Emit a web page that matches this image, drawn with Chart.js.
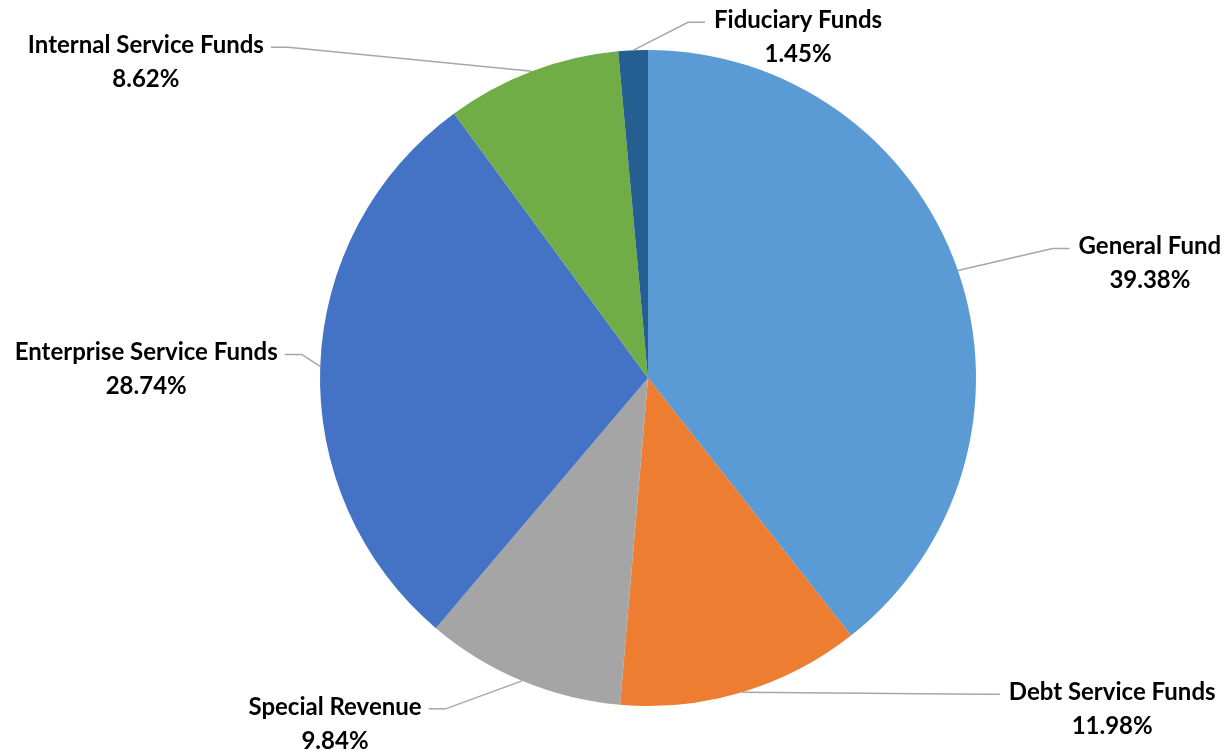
<!DOCTYPE html>
<html>
<head>
<meta charset="utf-8">
<script src="https://cdn.jsdelivr.net/npm/chart.js@4/dist/chart.umd.min.js"></script>
<style>
  html, body { margin: 0; padding: 0; background: #ffffff; }
  #wrap { width: 1229px; height: 752px; position: relative; }
</style>
</head>
<body>
<div id="wrap"><canvas id="c" width="1229" height="752"></canvas></div>
<script>
// ---- data ----
const categories = ["General Fund", "Debt Service Funds", "Special Revenue", "Enterprise Service Funds", "Internal Service Funds", "Fiduciary Funds"];
const percentValues = [39.38, 11.98, 9.84, 28.74, 8.62, 1.45];
const percentLabels = ["39.38%", "11.98%", "9.84%", "28.74%", "8.62%", "1.45%"];

// ---- style / layout ----
const sliceColors = ["#5B9BD5", "#ED7D31", "#A5A5A5", "#4472C4", "#70AD47", "#255E91"];
// label offset (text centre of first line) relative to slice's outer mid point
const labelOffsets = [[192, -24], [370, 0], [-187, 26], [-174, -14], [-386, -26], [165, -30]];
const labelFont = "bold 24px Lato";
const lineGap = 34;

const leaderPlugin = {
  id: 'leaderLabels',
  afterDatasetsDraw(chart) {
    const ctx = chart.ctx;
    const meta = chart.getDatasetMeta(0);
    ctx.save();
    ctx.font = labelFont;
    meta.data.forEach((arc, i) => {
      const p = arc.getProps(['x', 'y', 'startAngle', 'endAngle', 'outerRadius'], true);
      const mid = (p.startAngle + p.endAngle) / 2;
      const ax = p.x + Math.cos(mid) * p.outerRadius;
      const ay = p.y + Math.sin(mid) * p.outerRadius;
      const tx = ax + labelOffsets[i][0];
      const ty = ay + labelOffsets[i][1];
      const w = ctx.measureText(categories[i]).width;
      const right = tx > ax;
      const edge = right ? tx - w / 2 - 9 : tx + w / 2 + 7;
      const elbow = right ? edge - 17 : edge + 17;
      // leader line
      ctx.strokeStyle = "#A6A6A6";
      ctx.lineWidth = 1.5;
      ctx.beginPath();
      ctx.moveTo(ax, ay);
      ctx.lineTo(elbow, ty + 2);
      ctx.lineTo(edge, ty + 2);
      ctx.stroke();
      // text
      ctx.fillStyle = "#000000";
      ctx.textAlign = "center";
      ctx.textBaseline = "middle";
      ctx.fillText(categories[i], tx, ty);
      ctx.fillText(percentLabels[i], tx, ty + lineGap);
    });
    ctx.restore();
  }
};

new Chart(document.getElementById('c'), {
  type: 'pie',
  data: {
    labels: categories,
    datasets: [{
      data: percentValues,
      backgroundColor: sliceColors,
      borderWidth: 0
    }]
  },
  options: {
    responsive: false,
    animation: false,
    layout: { padding: { top: 50, bottom: 46, left: 320, right: 253 } },
    plugins: {
      legend: { display: false },
      tooltip: { enabled: false }
    }
  },
  plugins: [leaderPlugin]
});
</script>
</body>
</html>
